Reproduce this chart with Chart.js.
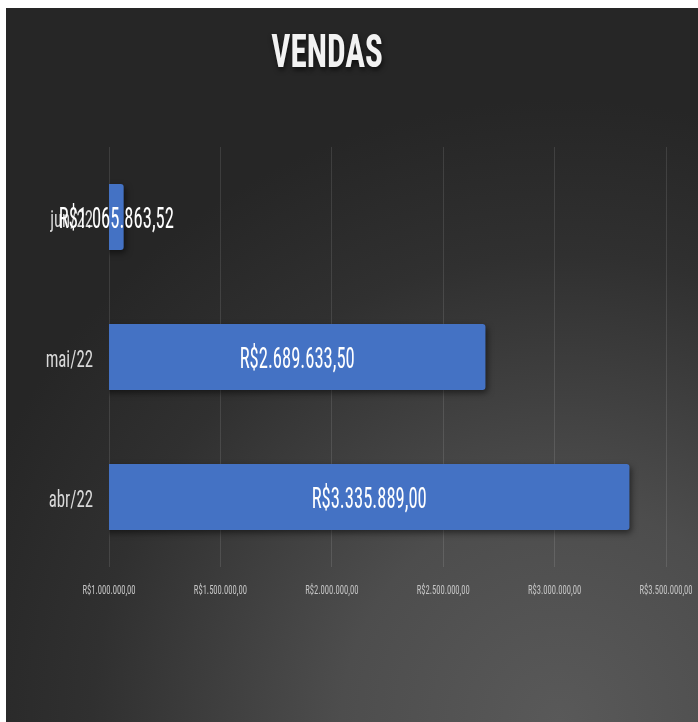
<!DOCTYPE html>
<html>
<head>
<meta charset="utf-8">
<script src="https://cdn.jsdelivr.net/npm/chart.js@4"></script>
<style>
	html, body { margin: 0; padding: 0; background: #ffffff; overflow: hidden; }
	#wrap { position: absolute; left: 6px; top: 8px; width: 692px; height: 714px; }
</style>
</head>
<body>
<div id="wrap"><canvas id="vendas"></canvas></div>
<script>
// dados das vendas por mês
const meses = ['jun/22', 'mai/22', 'abr/22'];
const vendas = [1065863.52, 2689633.50, 3335889.00];
const eixoMin = 1000000;
const eixoMax = 3500000;
const eixoPasso = 500000;
const titulo = 'VENDAS';

const fonte = "'Roboto Condensed', 'DejaVu Sans Condensed', sans-serif";

// formata em reais: R$1.234.567,89
function reais(v){
	const partes = Number(v).toFixed(2).split('.');
	const inteiro = partes[0].replace(/\B(?=(\d{3})+(?!\d))/g, '.');
	return 'R$' + inteiro + ',' + partes[1];
}

// escreve texto comprimido na horizontal (letra estreita)
function texto(ctx, str, x, y, font, cor, align, sx){
	ctx.save();
	ctx.translate(x, y);
	ctx.scale(sx, 1);
	ctx.font = font;
	ctx.fillStyle = cor;
	ctx.textAlign = align;
	ctx.textBaseline = 'alphabetic';
	ctx.fillText(str, 0, 0);
	ctx.restore();
}

// fundo escuro com brilho no canto inferior
const fundo = {
	id: 'fundo',
	beforeDraw(chart){
		const { ctx, width, height } = chart;
		const g = ctx.createRadialGradient(width * 0.8, height, 0, width * 0.8, height, width * 0.9);
		g.addColorStop(0, '#595959');
		g.addColorStop(0.35, '#4d4d4d');
		g.addColorStop(0.75, '#303030');
		g.addColorStop(1, '#262626');
		ctx.save();
		ctx.fillStyle = g;
		ctx.fillRect(0, 0, width, height);
		ctx.restore();
	}
};

// sombra das barras
const sombra = {
	id: 'sombra',
	beforeDatasetsDraw(chart){
		const ctx = chart.ctx;
		ctx.save();
		ctx.shadowColor = 'rgba(0,0,0,0.5)';
		ctx.shadowBlur = 6;
		ctx.shadowOffsetX = 2;
		ctx.shadowOffsetY = 3;
	},
	afterDatasetsDraw(chart){
		chart.ctx.restore();
	}
};

// textos: eixos, valores dentro das barras e título
const rotulos = {
	id: 'rotulos',
	afterDraw(chart){
		const ctx = chart.ctx;
		const area = chart.chartArea;
		const sx = chart.scales.x;
		const sy = chart.scales.y;

		// eixo x
		sx.ticks.forEach((t) => {
			texto(ctx, reais(t.value), sx.getPixelForValue(t.value), area.bottom + 27,
				'13px ' + fonte, '#c4c4c4', 'center', 0.66);
		});

		// meses
		chart.data.labels.forEach((m, i) => {
			texto(ctx, m, area.left - 16, sy.getPixelForTick(i) + 10,
				'24px ' + fonte, '#d9d9d9', 'right', 0.7);
		});

		// valores
		const meta = chart.getDatasetMeta(0);
		meta.data.forEach((bar, i) => {
			const x = (bar.x + Math.max(bar.base, area.left)) / 2;
			texto(ctx, reais(vendas[i]), x, bar.y + 11,
				'30px ' + fonte, '#ffffff', 'center', 0.62);
		});

		// título com sombra
		ctx.save();
		ctx.shadowColor = 'rgba(0,0,0,0.6)';
		ctx.shadowBlur = 5;
		ctx.shadowOffsetX = 1;
		ctx.shadowOffsetY = 3;
		texto(ctx, titulo, chart.width * 0.464, 59,
			'bold 46px ' + fonte, '#f2f2f2', 'center', 0.72);
		ctx.restore();
	}
};

new Chart(document.getElementById('vendas'), {
	type: 'bar',
	data: {
		labels: meses,
		datasets: [{
			label: 'Vendas',
			data: vendas,
			backgroundColor: '#4472c4',
			borderRadius: 3,
			barPercentage: 0.47,
			categoryPercentage: 1
		}]
	},
	options: {
		indexAxis: 'y',
		responsive: true,
		maintainAspectRatio: false,
		animation: false,
		layout: {
			padding: { top: 139, right: 32, bottom: 115, left: 0 }
		},
		plugins: {
			legend: { display: false },
			tooltip: { enabled: false }
		},
		scales: {
			x: {
				min: eixoMin,
				max: eixoMax,
				afterFit: (s) => { s.height = 40 },
				grid: { color: 'rgba(255,255,255,0.11)', drawTicks: false },
				border: { display: false },
				ticks: { stepSize: eixoPasso, display: false }
			},
			y: {
				afterFit: (s) => { s.width = 103 },
				grid: { display: false, drawTicks: false },
				border: { display: false },
				ticks: { display: false }
			}
		}
	},
	plugins: [fundo, sombra, rotulos]
});
</script>
</body>
</html>
